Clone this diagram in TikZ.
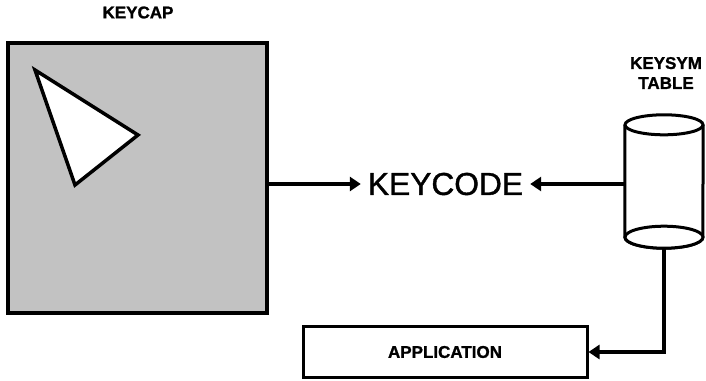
\documentclass[tikz,border=0pt]{standalone}
\usepackage{fontspec}
\setmainfont{Liberation Sans}
\newfontfamily\heavyfont[FakeBold=1.2]{Liberation Sans Bold}
\newfontfamily\medfont[FakeBold=1.2]{Liberation Sans}
\usetikzlibrary{arrows.meta}
\begin{document}
\begin{tikzpicture}[x=1pt,y=-1pt,
  lbl/.style={font=\fontsize{17}{20}\selectfont\heavyfont, inner sep=0pt, align=center},
  arr/.style={line width=3.5pt, -{Triangle[length=11pt,width=14pt]}},
  thick line/.style={line width=3.5pt}]
\useasboundingbox (0,0) rectangle (706,380);
% keycap
\node[draw, line width=3.5pt, fill=black!24, minimum width=259pt, minimum height=270pt, inner sep=0pt] (keycap) at (137.5,178) {};
\draw[thick line, fill=white, line join=miter] (35,70) -- (138,135) -- (75,185) -- cycle;
\node[lbl] (keycaplbl) at (138,12.5) {KEYCAP};
% keycode
\node[font=\fontsize{31.7}{34}\selectfont\medfont, inner sep=7pt] (keycode) at (445.5,184) {KEYCODE};
% keysym table
\node[minimum width=78pt, minimum height=112pt, inner sep=0pt] (tbl) at (664,181) {};
\draw[line width=3pt, fill=white] (tbl.north west) -- (tbl.south west) arc[start angle=180, end angle=360, x radius=39pt, y radius=11pt] -- (tbl.north east);
\draw[line width=3pt, fill=white] (tbl.south) ellipse[x radius=39pt, y radius=11pt];
\draw[line width=3pt, fill=white] (tbl.north) ellipse[x radius=39pt, y radius=10pt];
\node[lbl] (tbllbl) at (666,73) {KEYSYM\\TABLE};
% application
\node[draw, line width=3pt, minimum width=284pt, minimum height=51pt, inner sep=0pt, font=\fontsize{17}{20}\selectfont\heavyfont] (app) at (445,352) {APPLICATION};
% connectors
\draw[arr] (keycap.east |- keycode.west) -- (keycode.west);
\draw[arr] (tbl.west |- keycode.east) -- (keycode.east);
\draw[arr] ([yshift=-11pt]tbl.south) |- (app.east);
\end{tikzpicture}
\end{document}
